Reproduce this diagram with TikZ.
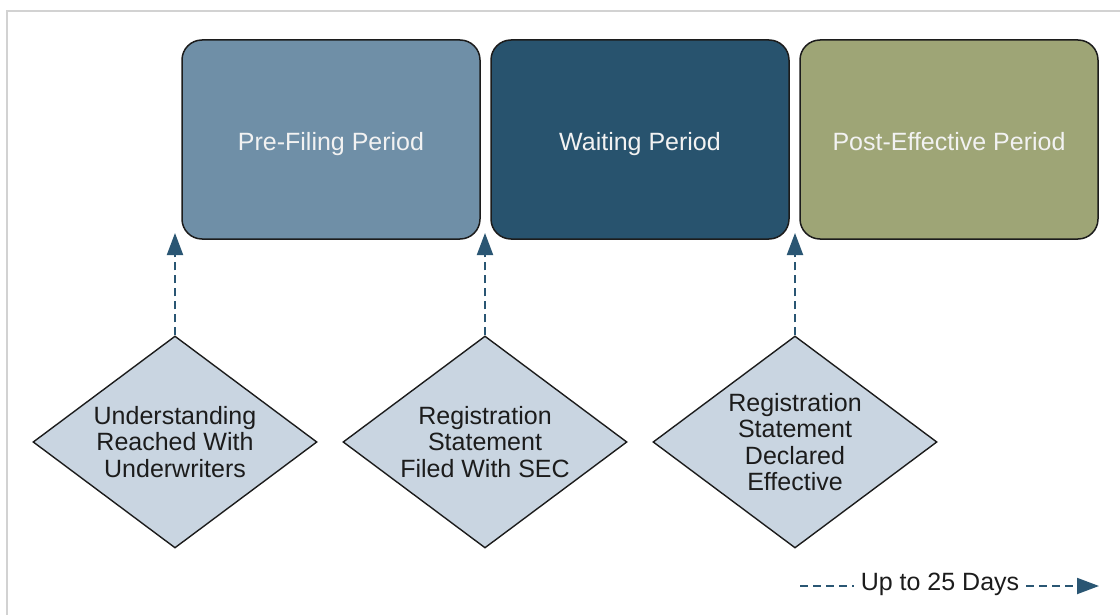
\documentclass[tikz,border=0pt]{standalone}
\usepackage{fontspec}
\setmainfont{Liberation Sans}
\usetikzlibrary{shapes.geometric,arrows.meta}
\definecolor{frameGray}{HTML}{D2D2D2}
\definecolor{preFill}{HTML}{6F8FA7}
\definecolor{waitFill}{HTML}{28536E}
\definecolor{postFill}{HTML}{9EA576}
\definecolor{diaFill}{HTML}{C9D5E1}
\definecolor{arrowBlue}{HTML}{2A5673}
\definecolor{inkDark}{HTML}{1C1C1C}
\definecolor{boxText}{HTML}{F2F2F2}
\begin{document}
\begin{tikzpicture}[x=1pt,y=-1pt,
  period/.style={draw=inkDark,line width=1.5pt,rounded corners=20pt,
    minimum width=298pt,minimum height=199pt,inner sep=0pt,
    text height=23pt,text depth=0pt,
    text=boxText,font=\fontsize{25}{27}\selectfont},
  event/.style={diamond,draw=inkDark,line width=1.4pt,fill=diaFill,
    aspect=1.34,minimum width=284pt,minimum height=212pt,inner sep=0pt,
    align=center,text=inkDark,font=\fontsize{25}{26.5}\selectfont},
  milestone/.style={draw=arrowBlue,line width=2pt,dash pattern=on 8pt off 5pt,
    -{Triangle[length=22pt,width=16pt]}},
  spanline/.style={draw=arrowBlue,line width=2pt,dash pattern=on 8pt off 5pt}]
\useasboundingbox (0,0) rectangle (1120,615);
% light frame, open at the right and bottom
\draw[frameGray,line width=1.5pt] (7,615) -- (7,11) -- (1120,11);

% the three periods
\node[period,fill=preFill]  (pre)  at (331,139.5) {Pre-Filing Period};
\node[period,fill=waitFill] (wait) at (640,139.5) {Waiting Period};
\node[period,fill=postFill] (post) at (949,139.5) {Post-Effective Period};

% the three events
\node[event] (under) at (175,442) {Understanding\\Reached With\\Underwriters};
\node[event] (filed) at (485,442) {Registration\\Statement\\Filed With SEC};
\node[event] (decl)  at (795,442) {Registration\\Statement\\Declared\\Effective};

% arrow tips at the period boundaries
\coordinate (t1) at (175,233);
\coordinate (t2) at (485,233);
\coordinate (t3) at (795,233);
\draw[milestone] (under.north) -- (t1);
\draw[milestone] (filed.north) -- (t2);
\draw[milestone] (decl.north) -- (t3);

% duration note
\node[inner xsep=7pt,inner ysep=0pt,anchor=base,text=inkDark,
  font=\fontsize{25}{27}\selectfont] (days) at (940,590) {Up to 25 Days};
\coordinate (dl) at (800,586);
\coordinate (dr) at (1099,586);
\draw[spanline] (dl) -- (dl -| days.west);
\draw[spanline,-{Triangle[length=22pt,width=16pt]}] (dr -| days.east) -- (dr);
\end{tikzpicture}
\end{document}
